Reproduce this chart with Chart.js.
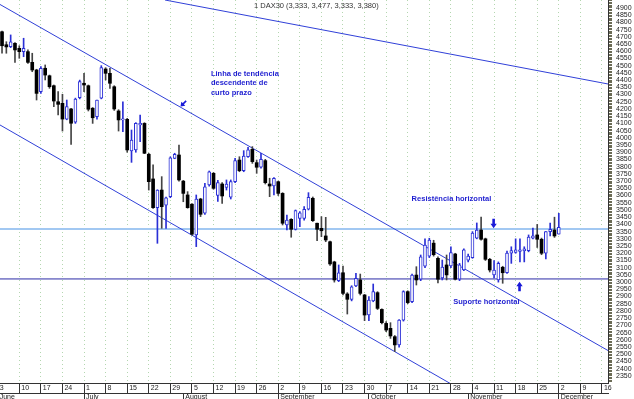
<!DOCTYPE html>
<html>
<head>
<meta charset="utf-8">
<script src="https://cdn.jsdelivr.net/npm/chart.js@4.4.1/dist/chart.umd.min.js"></script>
<style>
  html, body { margin: 0; padding: 0; background: #fff; }
  #wrap { width: 634px; height: 399px; }
</style>
</head>
<body>
<div id="wrap"><canvas id="chart" width="634" height="399"></canvas></div>
<script>
// DAX30 daily candles, one slot per trading day. Slot 0 = Mon 3 June 2002,
// first drawn candle is Tue 4 June (slot 1), last is Mon 2 December (slot 130).
const firstSlot = 1;

const openV = [
  4735, 4645, 4631, 4655, 4620, 4597, 4597, 4523, 4470, 4320,
  4482, 4430, 4361, 4250, 4239, 4130, 4200, 4108, 4278, 4378,
  4361, 4205, 4146, 4274, 4477, 4447, 4354, 4186, 4124, 4128,
  3909, 3916, 4089, 4100, 3886, 3715, 3516, 3638, 3534, 3592,
  3858, 3881, 3700, 3604, 3540, 3327, 3576, 3477, 3673, 3754,
  3600, 3680, 3657, 3588, 3696, 3846, 3772, 3869, 3920, 3828,
  3796, 3842, 3680, 3666, 3696, 3615, 3396, 3435, 3366, 3442,
  3442, 3505, 3581, 3408, 3373, 3320, 3280, 3140, 3010, 3065,
  2918, 2881, 2973, 3015, 2911, 2772, 2870, 2927, 2811, 2714,
  2680, 2622, 2565, 2737, 2934, 2864, 3049, 3020, 3110, 3180,
  3270, 3165, 3029, 3119, 3112, 3195, 3020, 3084, 3153, 3170,
  3305, 3361, 3300, 3158, 3050, 3015, 3103, 3065, 3200, 3205,
  3212, 3218, 3218, 3304, 3327, 3297, 3200, 3350, 3361, 3333
];
const highV = [
  4740, 4666, 4713, 4660, 4638, 4690, 4609, 4586, 4475, 4493,
  4505, 4435, 4366, 4320, 4302, 4262, 4205, 4275, 4400, 4447,
  4366, 4210, 4262, 4500, 4486, 4482, 4361, 4195, 4250, 4135,
  4054, 4105, 4158, 4105, 3893, 3812, 3640, 3731, 3590, 3868,
  3893, 3950, 3705, 3627, 3545, 3604, 3581, 3685, 3770, 3760,
  3705, 3690, 3708, 3708, 3858, 3869, 3911, 3934, 3939, 3846,
  3893, 3851, 3720, 3725, 3700, 3620, 3465, 3440, 3500, 3488,
  3523, 3620, 3590, 3410, 3454, 3449, 3285, 3145, 3119, 3112,
  2927, 2975, 3061, 3056, 2915, 2899, 2987, 2934, 2815, 2726,
  2719, 2630, 2740, 2940, 2940, 3056, 3107, 3188, 3300, 3304,
  3290, 3175, 3153, 3188, 3245, 3200, 3130, 3230, 3195, 3350,
  3410, 3450, 3305, 3165, 3150, 3140, 3110, 3215, 3245, 3300,
  3300, 3245, 3327, 3375, 3400, 3305, 3350, 3410, 3450, 3477
];
const lowV = [
  4586, 4586, 4625, 4523, 4551, 4562, 4516, 4458, 4262, 4308,
  4401, 4343, 4216, 4158, 4047, 4125, 3955, 4100, 4270, 4320,
  4186, 4100, 4130, 4270, 4401, 4343, 4190, 4047, 4042, 3900,
  3830, 3900, 3973, 3890, 3638, 3510, 3269, 3373, 3373, 3585,
  3855, 3700, 3557, 3512, 3325, 3246, 3454, 3470, 3665, 3643,
  3560, 3546, 3638, 3576, 3690, 3765, 3765, 3865, 3823, 3754,
  3789, 3680, 3592, 3604, 3600, 3396, 3361, 3311, 3361, 3384,
  3430, 3500, 3420, 3287, 3315, 3280, 3115, 3000, 3003, 2911,
  2779, 2870, 2968, 2911, 2733, 2733, 2864, 2810, 2710, 2656,
  2610, 2519, 2550, 2730, 2850, 2858, 2980, 3010, 3100, 3170,
  3180, 2995, 3015, 3015, 3100, 3015, 3010, 3080, 3140, 3165,
  3300, 3290, 3150, 3070, 3030, 3000, 2992, 3060, 3130, 3200,
  3140, 3140, 3210, 3300, 3240, 3190, 3160, 3320, 3310, 3333
];
const closeV = [
  4638, 4630, 4666, 4609, 4597, 4620, 4523, 4470, 4308, 4482,
  4435, 4354, 4255, 4232, 4130, 4216, 4101, 4269, 4389, 4366,
  4198, 4139, 4262, 4486, 4447, 4378, 4200, 4124, 4130, 3916,
  3985, 4100, 4100, 3893, 3696, 3516, 3638, 3523, 3585, 3862,
  3886, 3708, 3615, 3516, 3332, 3576, 3470, 3660, 3765, 3650,
  3690, 3597, 3680, 3696, 3842, 3772, 3874, 3916, 3835, 3796,
  3851, 3689, 3666, 3720, 3615, 3408, 3430, 3366, 3495, 3481,
  3505, 3588, 3426, 3366, 3356, 3292, 3126, 3015, 3065, 2922,
  2881, 2968, 3026, 2922, 2772, 2876, 2934, 2818, 2719, 2668,
  2627, 2565, 2737, 2934, 2858, 3049, 3015, 3176, 3257, 3292,
  3190, 3020, 3105, 3050, 3204, 3020, 3119, 3223, 3181, 3340,
  3361, 3297, 3158, 3084, 3084, 3130, 3065, 3202, 3218, 3223,
  3223, 3230, 3313, 3320, 3297, 3200, 3350, 3366, 3320, 3380
];

// x axis: Monday slots with day numbers, and month starts
const weekSlots  = [0, 5, 10, 15, 20, 25, 30, 35, 40, 45, 50, 55, 60, 65, 70,
                    75, 80, 85, 90, 95, 100, 105, 110, 115, 120, 125, 130, 135, 140];
const weekLabels = ['3', '10', '17', '24', '1', '8', '15', '22', '29', '5', '12', '19', '26', '2', '9',
                    '16', '23', '30', '7', '14', '21', '28', '4', '11', '18', '25', '2', '9', '16'];
const monthSlots = [0, 20, 43, 65, 86, 109, 130];
const monthNames = ['June', 'July', 'August', 'September', 'October', 'November', 'December'];

// y axis labelled every 50 points
const yLabelMin = 2350, yLabelMax = 4900, yLabelStep = 50;

// drawn lines [slot, value]
const trendUpper  = [[0.53, 4924], [141.4, 2526]];
const trendLower  = [[0.53, 4089], [141.4, 1670]];
const trendLong   = [[38.76, 4955], [141.4, 4373]];
const resistance  = 3368;
const support     = 3022;

const header = '1 DAX30 (3,333, 3,477, 3,333, 3,380)';

const X_MIN = 0.53, X_MAX = 141.4, Y_MIN = 2301, Y_MAX = 4955;
const BLUE = '#2a2fd6';
const FONT = '"Liberation Sans", Arial, sans-serif';

const isUp = k => closeV[k] >= openV[k];
const slot = k => k + firstSlot;

const flat = v => [[X_MIN, v], [X_MAX, v]];
const pts = arr => arr.map(p => ({ x: p[0], y: p[1] }));

const notes = {
  id: 'notes',
  beforeDraw(chart) {
    const { ctx } = chart;
    ctx.save();
    ctx.fillStyle = '#fff';
    ctx.fillRect(0, 0, chart.width, chart.height);
    ctx.restore();
  },
  afterDatasetsDraw(chart) {
    const { ctx, scales: { x, y } } = chart;
    const px = v => x.getPixelForValue(v);
    const py = v => y.getPixelForValue(v);

    ctx.save();
    ctx.fillStyle = '#333';
    ctx.font = '7.5px ' + FONT;
    ctx.textBaseline = 'middle';
    ctx.fillText(header, 254, 6);

    ctx.fillStyle = '#1d1dd0';
    ctx.font = 'bold 7.5px ' + FONT;
    const texts = [
      ['Linha de tendência', 49.4, 4442],
      ['descendente de', 49.4, 4378],
      ['curto prazo', 49.4, 4313],
      ['Resistência horizontal', 95.9, 3576],
      ['Suporte horizontal', 105.55, 2860]
    ];
    texts.forEach(t => ctx.fillText(t[0], px(t[1]), py(t[2])));

    function arrow(tx, ty, dx, dy, len, head, shaft) {
      const hx = tx - dx * head, hy = ty - dy * head;
      const bx = tx - dx * len, by = ty - dy * len;
      const nx = -dy, ny = dx, hw = head * 0.7, sw = shaft / 2;
      ctx.beginPath();
      ctx.moveTo(tx, ty);
      ctx.lineTo(hx + nx * hw, hy + ny * hw);
      ctx.lineTo(hx + nx * sw, hy + ny * sw);
      ctx.lineTo(bx + nx * sw, by + ny * sw);
      ctx.lineTo(bx - nx * sw, by - ny * sw);
      ctx.lineTo(hx - nx * sw, hy - ny * sw);
      ctx.lineTo(hx - nx * hw, hy - ny * hw);
      ctx.closePath();
      ctx.fill();
    }
    ctx.fillStyle = '#1a1ad8';
    arrow(px(42.35), py(4217), -0.707, 0.707, 8, 4, 1.6);
    arrow(px(114.9), py(3373), 0, 1, 9.5, 4.5, 2.6);
    arrow(px(120.9), py(3003), 0, -1, 9.5, 4.5, 2.6);
    ctx.restore();
  }
};

new Chart(document.getElementById('chart'), {
  type: 'bar',
  data: {
    datasets: [
      {
        label: 'body',
        data: openV.map((o, k) => ({ x: slot(k), y: [o, closeV[k]] })),
        barThickness: 3,
        minBarLength: 1,
        grouped: false,
        borderSkipped: false,
        borderWidth: c => isUp(c.dataIndex) ? 1 : 0,
        borderColor: c => isUp(c.dataIndex) ? BLUE : '#000',
        backgroundColor: c => isUp(c.dataIndex) ? '#fff' : '#000'
      },
      {
        label: 'wick',
        data: lowV.map((l, k) => ({ x: slot(k), y: [l, highV[k]] })),
        barThickness: 1,
        grouped: false,
        borderWidth: 0,
        backgroundColor: c => isUp(c.dataIndex) ? BLUE : '#444'
      },
      { type: 'line', label: 'upper', data: pts(trendUpper), borderColor: '#3040d8', borderWidth: 1, pointRadius: 0 },
      { type: 'line', label: 'lower', data: pts(trendLower), borderColor: '#3040d8', borderWidth: 1, pointRadius: 0 },
      { type: 'line', label: 'long', data: pts(trendLong), borderColor: '#3040d8', borderWidth: 1, pointRadius: 0 },
      { type: 'line', label: 'resistance', data: pts(flat(resistance)), borderColor: '#a2c8f2', borderWidth: 2, pointRadius: 0 },
      { type: 'line', label: 'support', data: pts(flat(support)), borderColor: '#2b2ba6', borderWidth: 1, pointRadius: 0 }
    ]
  },
  options: {
    responsive: false,
    animation: false,
    layout: { padding: 0 },
    plugins: { legend: { display: false }, tooltip: { enabled: false } },
    scales: {
      x: {
        type: 'linear',
        position: 'bottom',
        min: X_MIN, max: X_MAX,
        offset: false,
        afterBuildTicks: s => { s.ticks = weekSlots.map(v => ({ value: v })); },
        afterFit: s => { s.height = 10; s.paddingLeft = 0; s.paddingRight = 0; },
        grid: { offset: false, color: '#b4d6b0', lineWidth: 1, tickLength: 10, tickColor: '#333', tickBorderDash: [] },
        border: { color: '#333', dash: [1, 3] },
        ticks: {
          autoSkip: false, maxRotation: 0, minRotation: 0,
          align: 'start', labelOffset: 2, padding: -9,
          color: '#222', font: { family: FONT, size: 7 },
          callback: (v, i) => weekLabels[i]
        }
      },
      xm: {
        type: 'linear',
        position: 'bottom',
        min: X_MIN, max: X_MAX,
        offset: false,
        afterBuildTicks: s => { s.ticks = monthSlots.map(v => ({ value: v })); },
        afterFit: s => { s.height = 6; s.paddingLeft = 0; s.paddingRight = 0; },
        grid: { offset: false, drawOnChartArea: false, tickLength: 6, tickColor: '#333' },
        border: { color: '#333' },
        ticks: {
          autoSkip: false, maxRotation: 0, minRotation: 0,
          align: 'start', labelOffset: 2, padding: -6,
          color: '#222', font: { family: FONT, size: 7 },
          callback: (v, i) => monthNames[i]
        }
      },
      y: {
        type: 'linear',
        position: 'right',
        min: Y_MIN, max: Y_MAX,
        beginAtZero: false,
        afterBuildTicks: s => {
          const t = [];
          for (let v = 2310; v <= 4950; v += 10) t.push({ value: v });
          s.ticks = t;
        },
        afterFit: s => { s.width = 26; s.paddingTop = 0; s.paddingBottom = 0; },
        grid: { drawOnChartArea: false, tickLength: 4, tickColor: '#6b6b55' },
        border: { color: '#333' },
        ticks: {
          autoSkip: false, padding: 4,
          color: '#222', font: { family: FONT, size: 7 },
          callback: v => (v % yLabelStep === 0 && v >= yLabelMin && v <= yLabelMax) ? String(v) : ''
        }
      }
    }
  },
  plugins: [notes]
});
</script>
</body>
</html>
